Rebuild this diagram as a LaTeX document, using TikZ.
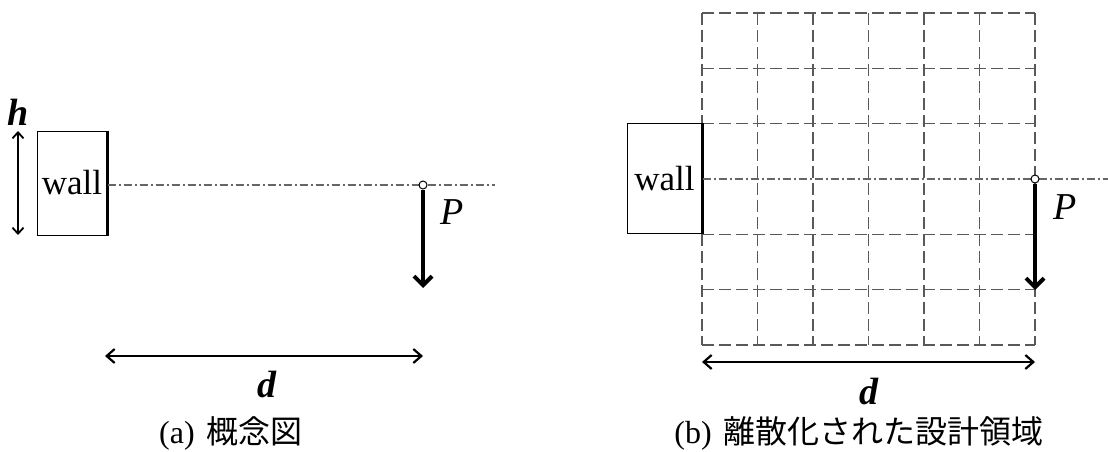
\documentclass[tikz,border=0pt]{standalone}
\usepackage{fontspec}
\setmainfont{Liberation Serif}
\newfontfamily\cjk{Noto Sans CJK JP}
\usetikzlibrary{arrows.meta}
\begin{document}
\begin{tikzpicture}[x=1pt,y=-1pt,
  wallbox/.style={draw, line width=1pt, inner sep=0pt, font=\fontsize{35}{40}\selectfont},
  wallface/.style={line width=2.6pt},
  axisline/.style={draw=black!60, line width=1.2pt, dash pattern=on 8pt off 3pt on 2pt off 3pt},
  gridline/.style={draw=black!65, line width=1.1pt, dash pattern=on 12pt off 5pt},
  loadpt/.style={circle, draw, fill=white, inner sep=0pt, minimum size=8pt, line width=1pt},
  force/.style={line width=4pt, -{Straight Barb[length=9pt,width=18pt]}},
  hdim/.style={line width=1.8pt, {Straight Barb[length=6pt,width=11pt]}-{Straight Barb[length=6pt,width=11pt]}},
  ddim/.style={line width=2.2pt, {Straight Barb[length=8pt,width=14pt]}-{Straight Barb[length=8pt,width=14pt]}},
  symlab/.style={font=\fontsize{38}{42}\selectfont\bfseries\itshape},
  plab/.style={font=\fontsize{38}{42}\selectfont\itshape},
  caption/.style={font=\fontsize{32}{36}\selectfont}
]
\useasboundingbox (0,0) rectangle (1108,452);

% ---------- (a) ----------
\node[wallbox, minimum width=70pt, minimum height=104pt] (wallA) at (72,183) {wall};
\draw[wallface] (wallA.north east) -- (wallA.south east);
\coordinate (hT) at (18,131);
\coordinate (hB) at (18,235);
\draw[hdim] (hT) -- (hB);
\node[symlab] (hlab) at (18,112) {h};
\coordinate (axAend) at (495,185);
\draw[axisline] (wallA.east |- 0,185) -- (axAend);
\node[loadpt] (PA) at (423,185) {};
\coordinate (PAend) at (423,288);
\draw[force] (PA.south) -- (PAend);
\node[plab] (PlabA) at (452,212) {P};
\coordinate (dAl) at (105,356);
\coordinate (dAr) at (423,356);
\draw[ddim] (dAl) -- (dAr);
\node[symlab] (dlabA) at (267,384) {d};
\node[caption] (capA) at (231,433) {(a)\hspace{12pt}{\cjk 概念図}};

% ---------- (b) ----------
\foreach \i in {0,...,6}
  \draw[gridline] (702+55.5*\i,13) -- (702+55.5*\i,345);
\foreach \j in {0,1,2,4,5,6}
  \draw[gridline] (702,13+55.33*\j) -- (1035,13+55.33*\j);
\node[wallbox, fill=white, minimum width=75pt, minimum height=110pt] (wallB) at (664.5,178.5) {wall};
\draw[wallface] (wallB.north east) -- (wallB.south east);
\coordinate (axBend) at (1108,179);
\draw[axisline] (wallB.east |- 0,179) -- (axBend);
\node[loadpt] (PB) at (1035,179) {};
\coordinate (PBend) at (1035,290);
\draw[force] (PB.south) -- (PBend);
\node[plab] (PlabB) at (1065,207) {P};
\coordinate (dBl) at (702,362);
\coordinate (dBr) at (1035,362);
\draw[ddim] (dBl) -- (dBr);
\node[symlab] (dlabB) at (869,391) {d};
\node[caption] (capB) at (859,433) {(b)\hspace{12pt}{\cjk 離散化された設計領域}};
\end{tikzpicture}
\end{document}
